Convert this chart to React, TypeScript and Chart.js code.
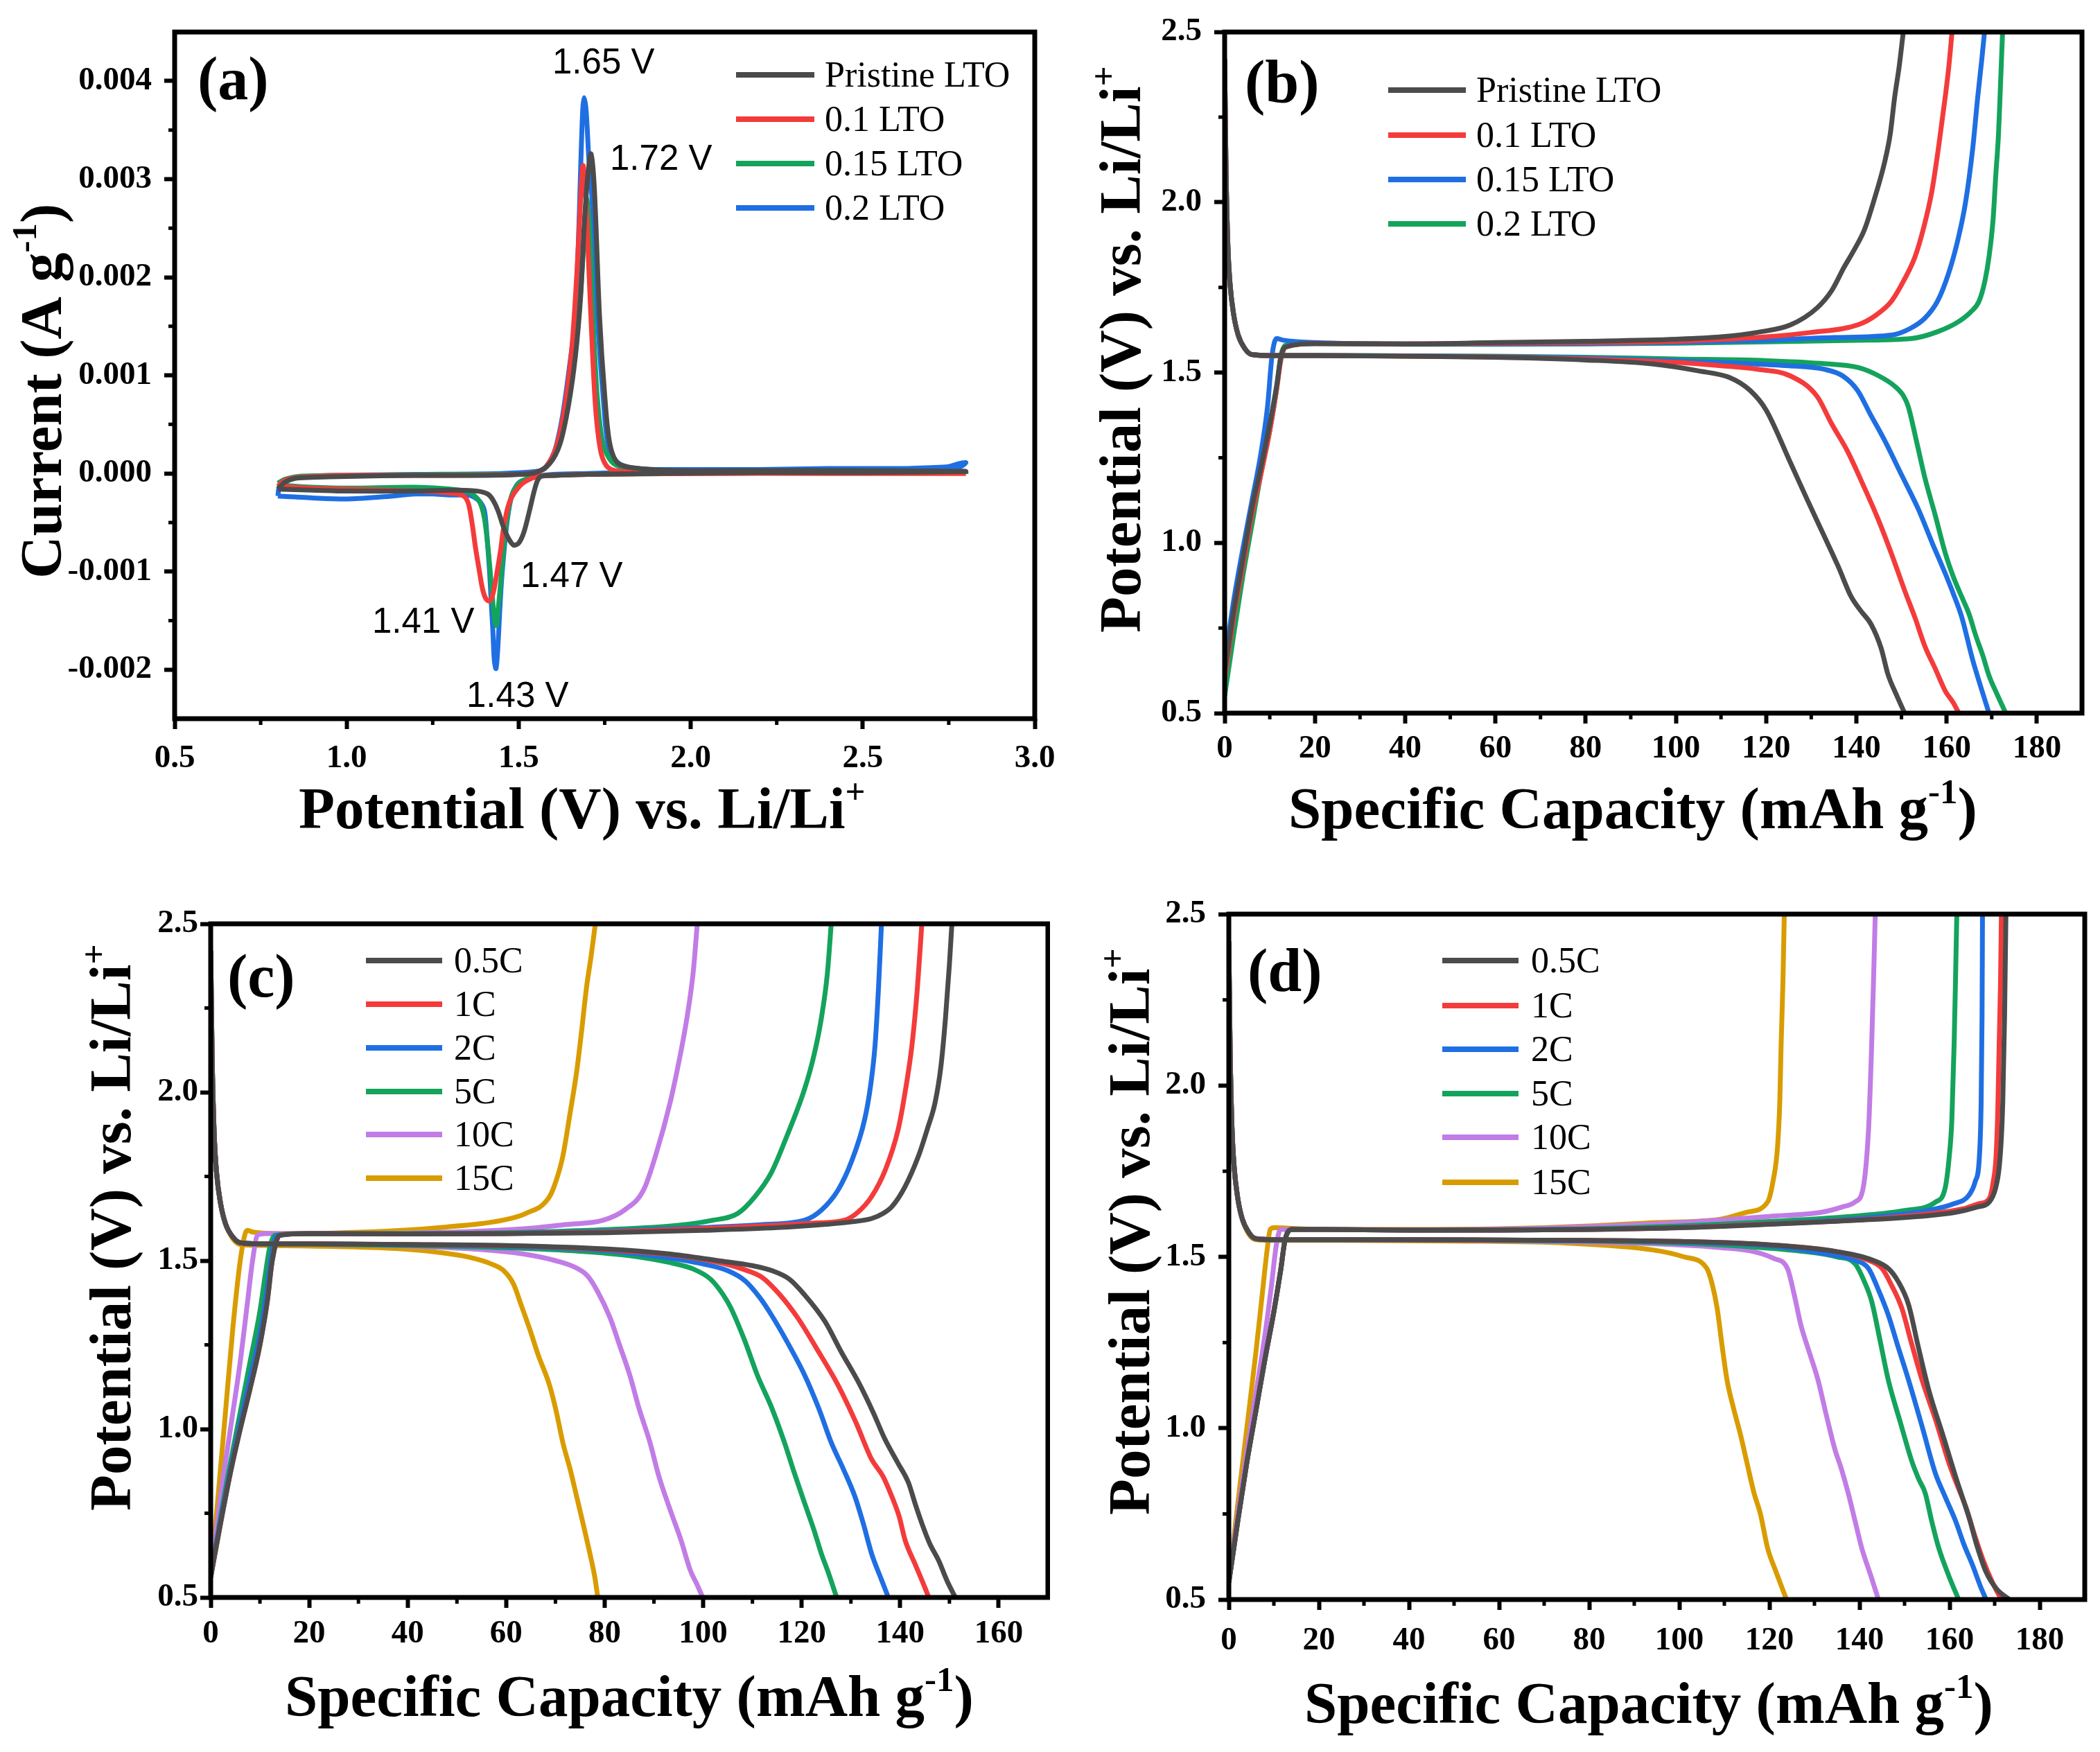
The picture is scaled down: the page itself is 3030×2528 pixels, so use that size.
import React, { useEffect, useRef } from 'react';
import { Chart, registerables } from 'chart.js';
Chart.register(...registerables);

// ---------------- colours ----------------
const GREY = '#4b4b4b';
const RED = '#f43b3b';
const GREEN = '#14a35c';
const BLUE = '#1f6fe3';
const PURPLE = '#c17ce6';
const GOLD = '#d99c00';

// ---------------- (a) CV data: potential (V) / current (A g-1) ----------------
const cvPristineV = [0.80,0.82,0.85,0.90,1.00,1.20,1.40,1.50,1.55,1.59,1.62,1.645,1.665,1.68,1.69,1.70,1.71,1.72,1.735,1.75,1.765,1.79,1.85,1.95,2.20,2.50,2.80,
  2.50,2.20,1.90,1.70,1.60,1.565,1.555,1.545,1.53,1.515,1.50,1.485,1.47,1.455,1.44,1.425,1.41,1.38,1.30,1.20,1.00,0.90,0.80];
const cvPristineI = [-0.00016,-0.00009,-0.00005,-0.00004,-0.00003,-0.00002,-0.00002,-0.00001,0.00001,0.0001,0.0003,0.0007,0.0012,0.0018,0.0025,0.0030,0.00326,0.0029,0.0016,0.0008,0.0003,0.0001,0.00005,0.00003,0.00003,0.00003,0.00002,
  0.00001,0.00001,0.0,-0.00001,-0.00002,-0.00003,-0.00007,-0.00018,-0.0004,-0.0006,-0.00071,-0.00073,-0.00066,-0.00054,-0.00038,-0.00027,-0.00021,-0.00018,-0.00017,-0.00018,-0.00018,-0.00017,-0.00016];

const cv01V = [0.80,0.82,0.86,1.00,1.30,1.50,1.55,1.58,1.61,1.635,1.655,1.67,1.68,1.687,1.695,1.705,1.715,1.725,1.74,1.76,1.80,2.00,2.40,2.80,
  2.40,2.00,1.70,1.60,1.556,1.52,1.50,1.48,1.468,1.455,1.448,1.435,1.425,1.415,1.405,1.395,1.385,1.375,1.365,1.354,1.34,1.30,1.20,1.00,0.90,0.80];
const cv01I = [-0.00013,-0.00007,-0.00004,-0.00002,-0.00002,-0.00001,0.00001,0.00007,0.00028,0.0007,0.0013,0.0021,0.0028,0.00314,0.0028,0.0020,0.0012,0.0006,0.0002,0.00006,0.00002,0.00001,0.0,0.0,
  0.0,0.0,-0.00001,-0.00002,-0.00003,-0.00008,-0.00014,-0.00024,-0.00035,-0.00058,-0.00077,-0.00105,-0.00123,-0.0013,-0.00128,-0.00118,-0.00098,-0.00077,-0.00052,-0.00031,-0.00023,-0.0002,-0.00018,-0.00016,-0.00015,-0.00013];

const cv015V = [0.80,0.82,0.86,1.00,1.30,1.50,1.55,1.58,1.612,1.64,1.66,1.673,1.685,1.697,1.706,1.716,1.728,1.745,1.77,1.80,1.85,2.00,2.40,2.80,
  2.40,2.00,1.70,1.60,1.556,1.52,1.50,1.48,1.468,1.458,1.448,1.44,1.435,1.43,1.422,1.412,1.40,1.385,1.36,1.33,1.20,1.00,0.90,0.82,0.80];
const cv015I = [-0.0001,-0.00006,-0.00003,-0.00002,-0.00001,-0.00001,0.00001,0.00007,0.00028,0.0007,0.0012,0.00154,0.0021,0.0028,0.0025,0.0016,0.0008,0.0003,0.00012,0.00006,0.00003,0.00002,0.00002,0.00002,
  0.00001,0.0,-0.00001,-0.00002,-0.00003,-0.00006,-0.0001,-0.00022,-0.00042,-0.0007,-0.0011,-0.0014,-0.00155,-0.0015,-0.0012,-0.0008,-0.00045,-0.00028,-0.0002,-0.00017,-0.00014,-0.00015,-0.00014,-0.00012,-0.0001];

const cv02V = [0.80,0.805,0.82,0.86,0.95,1.20,1.45,1.55,1.576,1.595,1.609,1.628,1.648,1.663,1.673,1.68,1.686,1.69,1.696,1.704,1.713,1.722,1.730,1.745,1.76,1.78,1.804,1.844,1.90,2.00,2.20,2.40,2.60,2.70,2.75,2.78,2.80,
  2.78,2.75,2.50,2.20,2.00,1.80,1.70,1.60,1.556,1.502,1.485,1.475,1.466,1.458,1.45,1.445,1.439,1.434,1.429,1.425,1.42,1.415,1.408,1.401,1.39,1.37,1.35,1.30,1.25,1.20,1.10,1.00,0.90,0.85,0.80];
const cv02I = [-0.00023,-0.00012,-0.00007,-0.00004,-0.00002,-0.00001,0.0,0.00002,0.00005,0.00015,0.00028,0.0006,0.0011,0.00154,0.0023,0.0031,0.0037,0.00383,0.0037,0.0032,0.0028,0.0021,0.00154,0.0008,0.00028,0.00014,0.00008,0.00005,0.00004,0.00004,0.00004,0.00005,0.00005,0.00006,0.00007,0.0001,0.00011,
  0.00006,0.00003,0.00003,0.00002,0.00002,0.00001,0.0,-0.00001,-0.00003,-0.00009,-0.00018,-0.0003,-0.0005,-0.00077,-0.0011,-0.0014,-0.0018,-0.00199,-0.0019,-0.00161,-0.0013,-0.00098,-0.00065,-0.00039,-0.0003,-0.00024,-0.00022,-0.00022,-0.00021,-0.00021,-0.00024,-0.00026,-0.00025,-0.00024,-0.00023];

const aLabels = ['Pristine LTO', '0.1 LTO', '0.15 LTO', '0.2 LTO'];
const aXTicks = [0.5, 1.0, 1.5, 2.0, 2.5, 3.0];
const aYTicks = [-0.002, -0.001, 0, 0.001, 0.002, 0.003, 0.004];
const aNotes = ['1.65 V', '1.72 V', '1.47 V', '1.41 V', '1.43 V'];

// ---------------- (b) GCD of samples: capacity (mAh g-1) / potential (V) ----------------
const bPristineDisCap = [0,0.3,0.7,1.2,2,3,4.5,6,10,20,40,60,80,95,105,112,116.5,120,125.4,129,132.8,136,138.8,141,143.3,145.5,147,149,150.7];
const bPristineDisV = [2.42,2.1,1.88,1.76,1.67,1.61,1.57,1.553,1.55,1.55,1.548,1.545,1.537,1.525,1.505,1.485,1.447,1.39,1.235,1.13,1.022,0.93,0.843,0.8,0.76,0.69,0.614,0.55,0.5];
const bPristineChgCap = [0,2,4,6,8,10,11.5,12.5,13.5,20,40,60,80,100,110,118,125.4,131.3,134.5,137.3,139.5,141.8,144,146.3,147.5,148.5,149.5,150.4];
const bPristineChgV = [0.62,0.8,0.95,1.1,1.22,1.35,1.46,1.55,1.575,1.585,1.584,1.588,1.592,1.598,1.605,1.618,1.64,1.69,1.74,1.81,1.86,1.92,2.01,2.12,2.2,2.31,2.4,2.5];

const b01DisCap = [0,0.3,0.7,1.2,2,3,4.5,6,10,20,40,60,80,100,110,118,125.4,131.3,134.5,138,141.5,144.8,148,150.7,153,155.2,157.5,159.7,161.5,162.7];
const b01DisV = [2.42,2.1,1.88,1.76,1.67,1.61,1.57,1.553,1.55,1.55,1.548,1.546,1.54,1.53,1.52,1.51,1.49,1.43,1.35,1.27,1.17,1.07,0.96,0.86,0.78,0.696,0.63,0.565,0.53,0.5];
const b01ChgCap = [0,2,4,6,8,10,11.5,12.5,13.5,20,40,60,80,100,120,130,140.3,144.5,147.8,150.5,153,155,156.7,158.3,159.7,160.5,161.2];
const b01ChgV = [0.6,0.78,0.93,1.08,1.2,1.33,1.45,1.54,1.575,1.585,1.584,1.586,1.588,1.592,1.605,1.618,1.64,1.67,1.71,1.77,1.84,1.93,2.03,2.17,2.31,2.4,2.5];

const b015DisCap = [0,0.3,0.7,1.2,2,3,4.5,6,10,20,40,60,80,100,115,125,132.8,137,140.3,143,146.3,150,153.7,156.8,159.7,161.5,163.4,165.7,167.5,169.4];
const b015DisV = [2.42,2.1,1.88,1.76,1.67,1.61,1.57,1.553,1.55,1.55,1.549,1.547,1.543,1.535,1.527,1.52,1.51,1.49,1.447,1.38,1.30,1.2,1.10,1.0,0.91,0.85,0.78,0.66,0.58,0.5];
const b015ChgCap = [0,2,4,6,8,9.5,10.5,11.5,13,20,40,60,80,100,120,135,147.8,152,155.2,158,160.4,162.5,164.2,165.8,166.9,167.8,168.4];
const b015ChgV = [0.65,0.83,0.98,1.12,1.26,1.4,1.55,1.6,1.595,1.588,1.584,1.584,1.585,1.588,1.595,1.603,1.61,1.63,1.66,1.71,1.79,1.89,2.0,2.16,2.31,2.42,2.5];

const b02DisCap = [0,0.3,0.7,1.2,2,3,4.5,6,10,20,40,60,80,100,120,132,140.3,145,148.5,150.5,151.5,153.3,155.2,157.5,159.7,161.5,163.4,165,166.4,168,169.4,171.2,173.1];
const b02DisV = [2.42,2.1,1.88,1.76,1.67,1.61,1.57,1.553,1.55,1.55,1.549,1.548,1.545,1.54,1.535,1.527,1.515,1.49,1.46,1.43,1.40,1.30,1.19,1.08,0.97,0.9,0.84,0.79,0.73,0.67,0.61,0.555,0.5];
const b02ChgCap = [0,2,4,6,8,10,11.5,12.5,13.5,20,40,60,80,100,120,140,152.2,158,162.7,165.5,167.2,168.5,169.4,170.3,170.9,171.5,171.9,172.4];
const b02ChgV = [0.55,0.73,0.9,1.05,1.2,1.33,1.45,1.55,1.58,1.585,1.583,1.583,1.584,1.586,1.59,1.595,1.6,1.62,1.65,1.68,1.71,1.77,1.84,1.95,2.08,2.2,2.33,2.5];

const bLabels = ['Pristine LTO', '0.1 LTO', '0.15 LTO', '0.2 LTO'];

// ---------------- (c) rate GCD, pristine ----------------
const c05DisCap = [0,0.3,0.7,1.2,2,3,4.5,6,10,20,40,60,80,93,103,110,114,117.5,120.5,124.7,128,131.5,134.5,136.9,139.5,141.7,143,144.4,146,147.8,149.5,151.2];
const c05DisV = [2.42,2.1,1.88,1.76,1.67,1.61,1.57,1.553,1.55,1.55,1.548,1.545,1.535,1.52,1.5,1.485,1.47,1.445,1.4,1.32,1.23,1.14,1.05,0.97,0.9,0.84,0.78,0.72,0.66,0.61,0.55,0.5];
const c05ChgCap = [0,2,4,6,8,10,11.5,12.5,14,20,40,60,80,100,115,125,130,134.2,136.5,138.3,141,143.7,145.5,147.1,148.3,149.2,150,150.5];
const c05ChgV = [0.56,0.72,0.87,1.0,1.12,1.25,1.38,1.5,1.575,1.58,1.579,1.58,1.583,1.59,1.598,1.608,1.615,1.625,1.64,1.66,1.72,1.81,1.89,1.97,2.08,2.22,2.38,2.5];

const c1DisCap = [0,0.3,0.7,1.2,2,3,4.5,6,10,20,40,60,80,95,103,108,112,115.5,119.2,123,127.4,131,134.2,136.5,138.3,139.8,141,143,145,145.8];
const c1DisV = [2.42,2.1,1.88,1.76,1.67,1.61,1.57,1.553,1.55,1.55,1.548,1.544,1.533,1.515,1.495,1.475,1.45,1.4,1.33,1.24,1.13,1.02,0.91,0.86,0.8,0.74,0.67,0.6,0.53,0.5];
const c1ChgCap = [0,2,4,6,8,10,11.5,12.5,14,20,40,60,80,100,115,123,128.7,131.5,134.2,137,139.6,141,142.4,143.5,144.4];
const c1ChgV = [0.56,0.72,0.87,1.0,1.12,1.25,1.38,1.5,1.575,1.58,1.579,1.58,1.585,1.595,1.605,1.612,1.62,1.645,1.69,1.77,1.89,2.0,2.14,2.31,2.5];

const c2DisCap = [0,0.3,0.7,1.2,2,3,4.5,6,10,20,40,60,80,92,100,105,108.5,111.5,113.8,117,120.6,123.5,126,128.5,130.8,132.5,134.2,136,137.6];
const c2DisV = [2.42,2.1,1.88,1.76,1.67,1.61,1.57,1.553,1.55,1.55,1.547,1.542,1.53,1.51,1.49,1.47,1.44,1.39,1.34,1.26,1.16,1.06,0.96,0.88,0.8,0.72,0.63,0.56,0.5];
const c2ChgCap = [0,2,4,6,8,10,11.5,12.5,13.5,20,40,60,80,100,112,120.6,124,127.4,130,132.8,134,134.9,135.6,136.2];
const c2ChgV = [0.56,0.73,0.88,1.02,1.15,1.28,1.42,1.53,1.575,1.58,1.579,1.581,1.587,1.598,1.607,1.62,1.65,1.71,1.79,1.92,2.02,2.14,2.31,2.5];

const c5DisCap = [0,0.3,0.7,1.2,2,3,4.5,6,10,20,40,60,75,85,93,98,101.5,104,105.6,108.5,111,114,116.5,118.5,120.6,122.5,124,125.5,127.1];
const c5DisV = [2.42,2.1,1.88,1.76,1.67,1.61,1.57,1.553,1.55,1.549,1.545,1.538,1.528,1.515,1.495,1.475,1.445,1.4,1.36,1.26,1.16,1.06,0.96,0.87,0.78,0.7,0.63,0.57,0.5];
const c5ChgCap = [0,2,4,6,8,10,11,12,13,20,40,60,80,95,102,107,110.5,113.8,117,120.6,122.5,124,125.2,126];
const c5ChgV = [0.56,0.74,0.9,1.05,1.2,1.35,1.45,1.54,1.575,1.58,1.58,1.583,1.592,1.605,1.62,1.64,1.69,1.76,1.87,2.01,2.11,2.22,2.35,2.5];

const c10DisCap = [0,0.3,0.7,1.2,2,3,4.5,6,10,20,40,55,63.4,70,74,76.5,78.5,81.1,83,85.1,87,89.2,91,93.3,95.5,97.4,98.7,99.9];
const c10DisV = [2.42,2.1,1.88,1.76,1.67,1.61,1.57,1.553,1.55,1.549,1.543,1.533,1.52,1.5,1.48,1.455,1.41,1.33,1.25,1.16,1.06,0.96,0.86,0.76,0.67,0.58,0.54,0.5];
const c10ChgCap = [0,2,4,6,7.5,8.5,9.5,11,20,40,55,65,72,79.7,84,87.9,90.5,93.3,95.2,96.7,98,98.8];
const c10ChgV = [0.56,0.8,1.0,1.2,1.38,1.5,1.575,1.58,1.58,1.582,1.588,1.596,1.607,1.62,1.65,1.71,1.82,1.97,2.1,2.22,2.36,2.5];

const c15DisCap = [0,0.3,0.7,1.2,2,3,4.5,6,11.6,25,38.8,46,52.5,57,59.5,61.5,63,64.7,66.5,68.8,70.2,71.5,73,74.3,75.6,77,78,78.6];
const c15DisV = [2.42,2.1,1.88,1.76,1.67,1.61,1.565,1.548,1.545,1.542,1.535,1.525,1.51,1.49,1.47,1.43,1.37,1.3,1.22,1.13,1.05,0.96,0.88,0.8,0.72,0.63,0.56,0.5];
const c15ChgCap = [0,1.5,3,4.5,6,7,7.5,8.5,15,25,38.8,48,55,59.3,64,68.8,70.2,71.5,73,74.3,75.3,76.3,77.3,78.1];
const c15ChgV = [0.56,0.8,1.05,1.3,1.5,1.58,1.59,1.585,1.58,1.582,1.59,1.6,1.61,1.62,1.64,1.69,1.74,1.81,1.94,2.06,2.18,2.31,2.41,2.5];

// ---------------- (d) rate GCD, modified ----------------
const d05DisCap = [0,0.3,0.7,1.2,2,3,4.5,6,10,20,40,60,80,100,120,135,143,146.4,148.5,150.9,153,155.4,158.5,161.3,162.8,164.3,166,168.1,170.5,173.3];
const d05DisV = [2.42,2.1,1.88,1.76,1.67,1.61,1.57,1.553,1.55,1.55,1.55,1.549,1.548,1.545,1.535,1.515,1.49,1.466,1.43,1.36,1.24,1.11,0.98,0.86,0.8,0.74,0.66,0.58,0.53,0.5];
const d05ChgCap = [0,2,4,6,8,10,11.5,12.5,14,20,40,60,80,100,120,140,155,161.3,166,168.8,170.2,171,171.5,171.8,172.2,172.5];
const d05ChgV = [0.55,0.73,0.9,1.05,1.2,1.34,1.46,1.55,1.58,1.58,1.578,1.578,1.58,1.585,1.595,1.607,1.62,1.63,1.645,1.66,1.7,1.76,1.85,1.95,2.2,2.5];

const d1DisCap = [0,0.3,0.7,1.2,2,3,4.5,6,10,20,40,60,80,100,120,135,142,145,147,149.4,151.5,153.9,157,159.8,161.5,163.6,165.5,167.3,169.5,171.5];
const d1DisV = [2.42,2.1,1.88,1.76,1.67,1.61,1.57,1.553,1.55,1.55,1.55,1.549,1.548,1.545,1.535,1.515,1.49,1.466,1.42,1.35,1.25,1.14,1.02,0.9,0.84,0.77,0.69,0.62,0.55,0.5];
const d1ChgCap = [0,2,4,6,8,10,11.5,12.5,14,20,40,60,80,100,120,140,155,163,166.5,168.8,169.7,170.3,170.7,171,171.3,171.5];
const d1ChgV = [0.55,0.73,0.9,1.05,1.2,1.34,1.46,1.55,1.58,1.58,1.578,1.578,1.58,1.585,1.596,1.608,1.625,1.64,1.655,1.67,1.72,1.79,1.93,2.12,2.3,2.5];

const d2DisCap = [0,0.3,0.7,1.2,2,3,4.5,6,10,20,40,60,80,100,120,132,139,142,144,146.4,148.5,150.9,154,156.8,159,161.3,163.2,165.1,166.8,168.1];
const d2DisV = [2.42,2.1,1.88,1.76,1.67,1.61,1.57,1.553,1.55,1.55,1.55,1.549,1.547,1.543,1.532,1.51,1.49,1.466,1.41,1.33,1.24,1.14,1.0,0.87,0.8,0.73,0.66,0.6,0.54,0.5];
const d2ChgCap = [0,2,4,6,8,10,11.5,12.5,14,20,40,60,80,100,120,140,155,161,164.3,165.7,166.6,167,167.2,167.3];
const d2ChgV = [0.55,0.73,0.9,1.05,1.2,1.34,1.46,1.55,1.58,1.58,1.578,1.578,1.58,1.586,1.597,1.612,1.635,1.655,1.68,1.72,1.79,1.95,2.2,2.5];

const d5DisCap = [0,0.3,0.7,1.2,2,3,4.5,6,10,20,40,60,80,100,115,128,135,139,141,142.7,144.5,146.4,149,151.7,153.2,154.6,156,157.6,159.8,162];
const d5DisV = [2.42,2.1,1.88,1.76,1.67,1.61,1.57,1.553,1.55,1.55,1.55,1.548,1.546,1.54,1.53,1.515,1.5,1.48,1.43,1.37,1.26,1.14,1.02,0.9,0.85,0.81,0.73,0.65,0.57,0.5];
const d5ChgCap = [0,2,4,6,8,10,11.5,12.5,14,20,40,60,80,100,120,140,150,156.9,159,159.9,160.5,161,161.3,161.6];
const d5ChgV = [0.55,0.73,0.9,1.05,1.2,1.34,1.46,1.55,1.58,1.58,1.578,1.579,1.582,1.59,1.603,1.62,1.635,1.66,1.7,1.79,1.9,2.12,2.3,2.5];

const d10DisCap = [0,0.3,0.7,1.2,2,3,4.5,6,10,20,40,60,80,100,109.2,116.6,121,124,125.5,127,128.9,130.8,132.6,134.5,136,137.5,139,140.5,142.5,144.2];
const d10DisV = [2.42,2.1,1.88,1.76,1.67,1.61,1.57,1.553,1.55,1.55,1.549,1.547,1.543,1.535,1.527,1.515,1.495,1.466,1.39,1.3,1.22,1.14,1.04,0.94,0.88,0.81,0.73,0.65,0.57,0.5];
const d10ChgCap = [0,2,4,6,8,9.5,10.5,11.5,20,40,60,80,100,120,131.5,136,139,140.8,142,142.4,142.7,143.1,143.5];
const d10ChgV = [0.55,0.75,0.93,1.1,1.27,1.42,1.53,1.58,1.58,1.579,1.581,1.588,1.6,1.618,1.63,1.645,1.66,1.7,1.87,2.0,2.12,2.3,2.5];

const d15DisCap = [0,0.3,0.7,1.2,2,3,4.5,6,10,25,50,75,94.2,101,106.1,107.3,108.4,109.5,110.6,112,113.6,115,116.6,118,119.6,121.5,123.8];
const d15DisV = [2.42,2.1,1.88,1.76,1.67,1.61,1.565,1.55,1.548,1.548,1.546,1.54,1.52,1.5,1.466,1.42,1.35,1.24,1.14,1.06,0.98,0.9,0.81,0.75,0.65,0.58,0.5];
const d15ChgCap = [0,2,4,6,7.5,8.5,9.2,10,20,40,60,80,95,109.2,115,119.6,120.8,121.8,122.3,122.6,123,123.3];
const d15ChgV = [0.55,0.78,1.0,1.22,1.4,1.52,1.58,1.585,1.58,1.58,1.582,1.59,1.6,1.61,1.63,1.66,1.72,1.82,1.95,2.12,2.3,2.5];

const rateLabels = ['0.5C', '1C', '2C', '5C', '10C', '15C'];
const gcdYTicks = [0.5, 1.0, 1.5, 2.0, 2.5];
const cap190Ticks = [0, 20, 40, 60, 80, 100, 120, 140, 160, 180];
const cap170Ticks = [0, 20, 40, 60, 80, 100, 120, 140, 160];

// ---------------- styling ----------------
const SERIF = '"Liberation Serif", "Times New Roman", Times, serif';
const SANS = '"Liberation Sans", Arial, Helvetica, sans-serif';
Chart.defaults.font.family = SERIF;
Chart.defaults.color = '#000';

type Part = { t: string; sup?: boolean };
type Series = { xs: number[]; ys: number[]; color: string };

interface Spec {
  id: string;
  left: number; top: number; width: number; height: number;
  area: { l: number; t: number; r: number; b: number };
  xMin: number; xMax: number; xTicks: number[]; xMinor: number; xDec: number;
  yMin: number; yMax: number; yTicks: number[]; yMinor: number; yDec: number;
  yPad: number; xPad: number;
  series: Series[];
  cv: boolean;
  legend: { labels: string[]; colors: string[]; x0: number; x1: number; tx: number; rows: number[] };
  label: { t: string; x: number; y: number };
  xTitle: { parts: Part[]; x: number; y: number };
  yTitle: { parts: Part[]; x: number; y: number };
  notes: { t: string; x: number; y: number }[];
}

const potTitle: Part[] = [{ t: 'Potential (V) vs. Li/Li' }, { t: '+', sup: true }];
const capTitle: Part[] = [{ t: 'Specific Capacity (mAh g' }, { t: '-1', sup: true }, { t: ')' }];
const curTitle: Part[] = [{ t: 'Current (A g' }, { t: '-1', sup: true }, { t: ')' }];

const rateColors = [GREY, RED, BLUE, GREEN, PURPLE, GOLD];

const PANELS: Spec[] = [
  {
    id: 'a', left: 0, top: 0, width: 1560, height: 1264,
    area: { l: 252, t: 37, r: 1493, b: 1037 },
    xMin: 0.5, xMax: 3.0, xTicks: aXTicks, xMinor: 0.25, xDec: 1,
    yMin: -0.0025, yMax: 0.0045, yTicks: aYTicks, yMinor: 0.0005, yDec: 3,
    yPad: 18, xPad: 15, cv: true,
    series: [
      { xs: cvPristineV, ys: cvPristineI, color: GREY },
      { xs: cv01V, ys: cv01I, color: RED },
      { xs: cv015V, ys: cv015I, color: GREEN },
      { xs: cv02V, ys: cv02I, color: BLUE },
    ],
    legend: { labels: aLabels, colors: [GREY, RED, GREEN, BLUE], x0: 1062, x1: 1175, tx: 1190, rows: [108, 172, 236, 300] },
    label: { t: '(a)', x: 285, y: 143 },
    xTitle: { parts: potTitle, x: 431, y: 1195 },
    yTitle: { parts: curTitle, x: 88, y: 835 },
    notes: [
      { t: aNotes[0], x: 797, y: 106 },
      { t: aNotes[1], x: 880, y: 245 },
      { t: aNotes[2], x: 751, y: 847 },
      { t: aNotes[3], x: 537, y: 913 },
      { t: aNotes[4], x: 673, y: 1020 },
    ],
  },
  {
    id: 'b', left: 1515, top: 0, width: 1515, height: 1264,
    area: { l: 252, t: 35, r: 1489, b: 1029 },
    xMin: 0, xMax: 190, xTicks: cap190Ticks, xMinor: 10, xDec: 0,
    yMin: 0.5, yMax: 2.5, yTicks: gcdYTicks, yMinor: 0.25, yDec: 1,
    yPad: 18, xPad: 9, cv: false,
    series: [
      { xs: bPristineDisCap, ys: bPristineDisV, color: GREY },
      { xs: bPristineChgCap, ys: bPristineChgV, color: GREY },
      { xs: b01DisCap, ys: b01DisV, color: RED },
      { xs: b01ChgCap, ys: b01ChgV, color: RED },
      { xs: b015DisCap, ys: b015DisV, color: BLUE },
      { xs: b015ChgCap, ys: b015ChgV, color: BLUE },
      { xs: b02DisCap, ys: b02DisV, color: GREEN },
      { xs: b02ChgCap, ys: b02ChgV, color: GREEN },
    ],
    legend: { labels: bLabels, colors: [GREY, RED, BLUE, GREEN], x0: 488, x1: 600, tx: 615, rows: [130, 195, 259, 323] },
    label: { t: '(b)', x: 281, y: 148 },
    xTitle: { parts: capTitle, x: 344, y: 1195 },
    yTitle: { parts: potTitle, x: 130, y: 913 },
    notes: [],
  },
  {
    id: 'c', left: 0, top: 1264, width: 1515, height: 1264,
    area: { l: 304, t: 69, r: 1512, b: 1041 },
    xMin: 0, xMax: 170, xTicks: cap170Ticks, xMinor: 10, xDec: 0,
    yMin: 0.5, yMax: 2.5, yTicks: gcdYTicks, yMinor: 0.25, yDec: 1,
    yPad: 3, xPad: 10, cv: false,
    series: [
      { xs: c05DisCap, ys: c05DisV, color: GREY },
      { xs: c05ChgCap, ys: c05ChgV, color: GREY },
      { xs: c1DisCap, ys: c1DisV, color: RED },
      { xs: c1ChgCap, ys: c1ChgV, color: RED },
      { xs: c2DisCap, ys: c2DisV, color: BLUE },
      { xs: c2ChgCap, ys: c2ChgV, color: BLUE },
      { xs: c5DisCap, ys: c5DisV, color: GREEN },
      { xs: c5ChgCap, ys: c5ChgV, color: GREEN },
      { xs: c10DisCap, ys: c10DisV, color: PURPLE },
      { xs: c10ChgCap, ys: c10ChgV, color: PURPLE },
      { xs: c15DisCap, ys: c15DisV, color: GOLD },
      { xs: c15ChgCap, ys: c15ChgV, color: GOLD },
    ],
    legend: { labels: rateLabels, colors: rateColors, x0: 528, x1: 638, tx: 655, rows: [122, 185, 248, 311, 373, 436] },
    label: { t: '(c)', x: 328, y: 174 },
    xTitle: { parts: capTitle, x: 411, y: 1212 },
    yTitle: { parts: potTitle, x: 188, y: 916 },
    notes: [],
  },
  {
    id: 'd', left: 1515, top: 1264, width: 1515, height: 1264,
    area: { l: 258, t: 55, r: 1493, b: 1044 },
    xMin: 0, xMax: 190, xTicks: cap190Ticks, xMinor: 10, xDec: 0,
    yMin: 0.5, yMax: 2.5, yTicks: gcdYTicks, yMinor: 0.25, yDec: 1,
    yPad: 18, xPad: 17, cv: false,
    series: [
      { xs: d05DisCap, ys: d05DisV, color: GREY },
      { xs: d05ChgCap, ys: d05ChgV, color: GREY },
      { xs: d1DisCap, ys: d1DisV, color: RED },
      { xs: d1ChgCap, ys: d1ChgV, color: RED },
      { xs: d2DisCap, ys: d2DisV, color: BLUE },
      { xs: d2ChgCap, ys: d2ChgV, color: BLUE },
      { xs: d5DisCap, ys: d5DisV, color: GREEN },
      { xs: d5ChgCap, ys: d5ChgV, color: GREEN },
      { xs: d10DisCap, ys: d10DisV, color: PURPLE },
      { xs: d10ChgCap, ys: d10ChgV, color: PURPLE },
      { xs: d15DisCap, ys: d15DisV, color: GOLD },
      { xs: d15ChgCap, ys: d15ChgV, color: GOLD },
    ],
    legend: { labels: rateLabels, colors: rateColors, x0: 566, x1: 676, tx: 694, rows: [122, 187, 250, 314, 377, 442] },
    label: { t: '(d)', x: 285, y: 166 },
    xTitle: { parts: capTitle, x: 367, y: 1222 },
    yTitle: { parts: potTitle, x: 143, y: 922 },
    notes: [],
  },
];

const TITLE_SIZE = 85;

function drawRich(ctx: CanvasRenderingContext2D, parts: Part[], x: number, y: number, rotate: boolean) {
  ctx.save();
  ctx.translate(x, y);
  if (rotate) ctx.rotate(-Math.PI / 2);
  ctx.textAlign = 'left';
  ctx.textBaseline = 'alphabetic';
  ctx.fillStyle = '#000';
  let cx = 0;
  for (const p of parts) {
    const size = p.sup ? TITLE_SIZE * 0.6 : TITLE_SIZE;
    ctx.font = `bold ${size}px ${SERIF}`;
    ctx.fillText(p.t, cx, p.sup ? -TITLE_SIZE * 0.42 : 0);
    cx += ctx.measureText(p.t).width;
  }
  ctx.restore();
}

function isMajor(v: number, ticks: number[]) {
  return ticks.some((t) => Math.abs(t - v) < 1e-9);
}

function drawDecor(chart: any, s: Spec) {
  const ctx: CanvasRenderingContext2D = chart.ctx;
  const a = chart.chartArea;
  const xs = chart.scales.x;
  const ys = chart.scales.y;
  ctx.save();
  // frame
  ctx.strokeStyle = '#000';
  ctx.lineWidth = 7;
  ctx.strokeRect(a.left, a.top, a.right - a.left, a.bottom - a.top);
  // minor ticks
  ctx.lineWidth = 5;
  ctx.beginPath();
  const nx = Math.round((s.xMax - s.xMin) / s.xMinor);
  for (let i = 1; i < nx; i++) {
    const v = s.xMin + i * s.xMinor;
    if (isMajor(v, s.xTicks)) continue;
    const px = xs.getPixelForValue(v);
    ctx.moveTo(px, a.bottom);
    ctx.lineTo(px, a.bottom + 9);
  }
  const ny = Math.round((s.yMax - s.yMin) / s.yMinor);
  for (let i = 1; i < ny; i++) {
    const v = s.yMin + i * s.yMinor;
    if (isMajor(v, s.yTicks)) continue;
    const py = ys.getPixelForValue(v);
    ctx.moveTo(a.left, py);
    ctx.lineTo(a.left - 9, py);
  }
  ctx.stroke();

  // legend
  const L = s.legend;
  ctx.font = `52px ${SERIF}`;
  ctx.textAlign = 'left';
  ctx.textBaseline = 'alphabetic';
  L.labels.forEach((lab, i) => {
    const y = L.rows[i];
    ctx.strokeStyle = L.colors[i];
    ctx.lineWidth = 8;
    ctx.beginPath();
    ctx.moveTo(L.x0, y);
    ctx.lineTo(L.x1, y);
    ctx.stroke();
    ctx.fillStyle = '#000';
    ctx.fillText(lab, L.tx, y + 17);
  });

  // panel label
  ctx.font = `bold 88px ${SERIF}`;
  ctx.fillStyle = '#000';
  ctx.fillText(s.label.t, s.label.x, s.label.y);

  // annotations
  ctx.font = `51px ${SANS}`;
  s.notes.forEach((n) => ctx.fillText(n.t, n.x, n.y));

  // axis titles
  drawRich(ctx, s.xTitle.parts, s.xTitle.x, s.xTitle.y, false);
  drawRich(ctx, s.yTitle.parts, s.yTitle.x, s.yTitle.y, true);
  ctx.restore();
}

function Panel({ spec }: { spec: Spec }) {
  const ref = useRef<HTMLCanvasElement | null>(null);
  useEffect(() => {
    const canvas = ref.current;
    if (!canvas) return;
    const s = spec;
    const datasets = s.series.map((ser) => ({
      data: ser.xs.map((x, i) => ({ x, y: ser.ys[i] })),
      borderColor: ser.color,
      backgroundColor: ser.color,
      borderWidth: 7,
      pointRadius: 0,
      showLine: true,
      fill: false,
      tension: s.cv ? 0.3 : 0,
      cubicInterpolationMode: s.cv ? 'default' : 'monotone',
    }));
    const tickFont = { family: SERIF, size: 47, weight: 'bold' as const };
    const chart = new Chart(canvas, {
      type: 'scatter',
      data: { datasets: datasets as any },
      options: {
        responsive: false,
        animation: false,
        devicePixelRatio: 1,
        events: [],
        layout: { padding: { left: 0, top: s.area.t, right: s.width - s.area.r, bottom: 0 } },
        plugins: { legend: { display: false }, tooltip: { enabled: false }, title: { display: false } },
        scales: {
          x: {
            type: 'linear',
            min: s.xMin,
            max: s.xMax,
            afterFit: (sc: any) => { sc.height = s.height - s.area.b; },
            afterBuildTicks: (sc: any) => { sc.ticks = s.xTicks.map((v) => ({ value: v })); },
            grid: { drawOnChartArea: false, drawTicks: true, tickLength: 15, tickWidth: 6, tickColor: '#000' },
            border: { display: false },
            ticks: {
              autoSkip: false, maxRotation: 0, color: '#000', padding: s.xPad, font: tickFont,
              callback: (v: any) => Number(v).toFixed(s.xDec),
            },
          },
          y: {
            type: 'linear',
            min: s.yMin,
            max: s.yMax,
            afterFit: (sc: any) => { sc.width = s.area.l; },
            afterBuildTicks: (sc: any) => { sc.ticks = s.yTicks.map((v) => ({ value: v })); },
            grid: { drawOnChartArea: false, drawTicks: true, tickLength: 15, tickWidth: 6, tickColor: '#000' },
            border: { display: false },
            ticks: {
              autoSkip: false, color: '#000', padding: s.yPad, font: tickFont,
              callback: (v: any) => Number(v).toFixed(s.yDec),
            },
          },
        },
      } as any,
      plugins: [{ id: 'decor' + s.id, afterDatasetsDraw: (c: any) => drawDecor(c, s) }],
    });
    return () => chart.destroy();
  }, [spec]);
  return (
    <canvas
      ref={ref}
      width={spec.width}
      height={spec.height}
      style={{ position: 'absolute', left: spec.left, top: spec.top, width: spec.width, height: spec.height }}
    />
  );
}

export default function App() {
  return (
    <div style={{ position: 'absolute', left: 0, top: 0, width: 3030, height: 2528, background: '#fff', overflow: 'hidden' }}>
      {PANELS.map((p) => (
        <Panel key={p.id} spec={p} />
      ))}
    </div>
  );
}
